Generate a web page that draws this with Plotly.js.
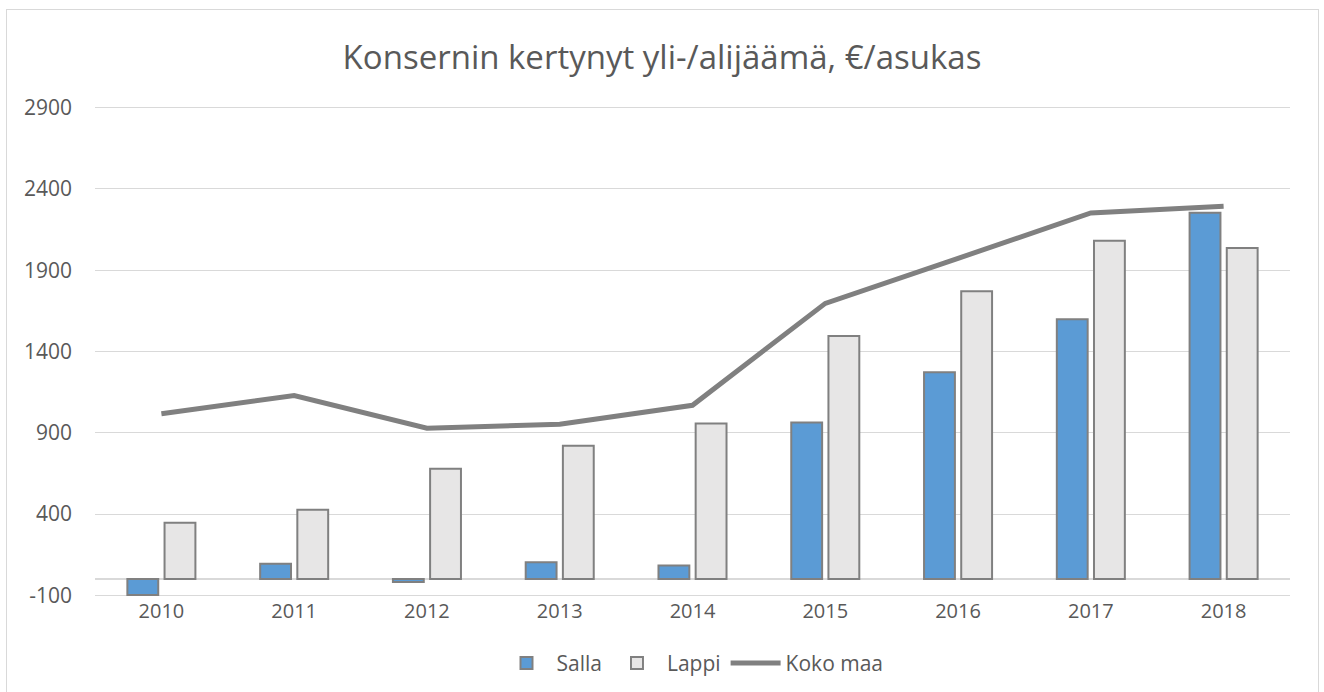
<!DOCTYPE html>
<html>
<head>
<meta charset="utf-8">
<script src="https://cdn.plot.ly/plotly-3.0.1.min.js"></script>
<style>
html,body{margin:0;padding:0;background:#fff;}
#chart{width:1324px;height:692px;}
#frame{position:absolute;left:6px;top:9px;width:1313px;height:700px;border:1px solid #d9d9d9;box-sizing:border-box;pointer-events:none;}
</style>
</head>
<body>
<div id="chart"></div>
<div id="frame"></div>
<script>
const years = ['2010','2011','2012','2013','2014','2015','2016','2017','2018'];
const salla = [-98, 95, -18, 103, 84, 964, 1273, 1598, 2254];
const lappi = [346, 427, 679, 820, 957, 1496, 1770, 2081, 2036];
const kokoMaa = [1017, 1129, 928, 952, 1069, 1696, 1973, 2252, 2294];
const yTicks = [-100, 400, 900, 1400, 1900, 2400, 2900];

const txt = '#595959';
const traces = [
  {type:'bar', name:'Salla', x:years, y:salla,
   marker:{color:'#5b9bd5', line:{color:'#808080', width:2}}},
  {type:'bar', name:'Lappi', x:years, y:lappi,
   marker:{color:'#e7e6e6', line:{color:'#808080', width:2}}},
  {type:'scatter', mode:'lines', name:'Koko maa', x:years, y:kokoMaa,
   line:{color:'#808080', width:5}}
];
const layout = {
  width:1324, height:692,
  margin:{l:95, r:34, t:106, b:95, autoexpand:false},
  paper_bgcolor:'#fff', plot_bgcolor:'#fff',
  font:{family:'Open Sans, sans-serif', color:txt, size:20},
  title:{text:'Konsernin kertynyt yli-/alijäämä, €/asukas', x:0.5, xanchor:'center', y:0.917, yanchor:'middle',
         font:{size:33, color:txt}},
  barmode:'group', bargap:0.44, bargroupgap:0.17,
  xaxis:{type:'category', showgrid:false, zeroline:false, showline:false, ticks:'',
         ticklabelstandoff:0, tickfont:{size:20, color:txt}, automargin:false},
  yaxis:{range:[-110,2910], tickvals:yTicks, ticktext:yTicks.map(String),
         showgrid:true, gridcolor:'#d9d9d9', gridwidth:1,
         zeroline:true, zerolinecolor:'#d9d9d9', zerolinewidth:1.5,
         showline:false, ticks:'', ticklen:0, ticklabelstandoff:22,
         tickfont:{size:21, color:txt}, automargin:false},
  showlegend:true,
  legend:{orientation:'h', x:0.5, xanchor:'center', y:-0.135, yanchor:'middle',
          font:{size:21, color:txt}, traceorder:'normal', itemwidth:50}
};
Plotly.newPlot('chart', traces, layout, {displayModeBar:false, staticPlot:true});
</script>
</body>
</html>
